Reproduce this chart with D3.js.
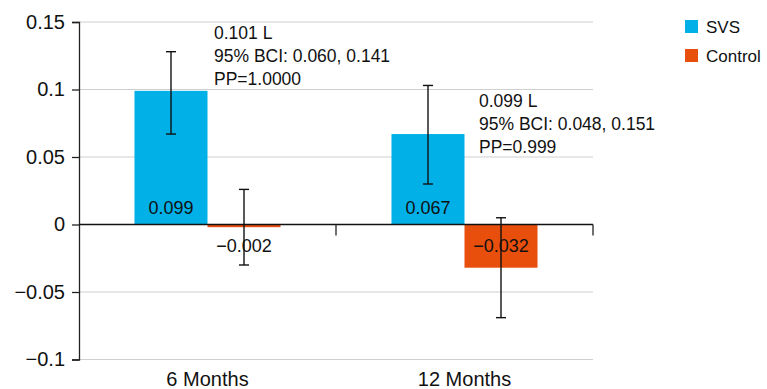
<!DOCTYPE html>
<html>
<head>
<meta charset="utf-8">
<script src="https://cdn.jsdelivr.net/npm/d3@7"></script>
<style>
  body { margin: 0; background: #fff; }
  text { font-family: "Liberation Sans", Arial, Helvetica, sans-serif; fill: #111; }
</style>
</head>
<body>
<svg id="chart" width="767" height="389"></svg>
<script>
var categories = ["6 Months", "12 Months"];
var series = ["SVS", "Control"];
var svsValues = [0.099, 0.067];
var controlValues = [-0.002, -0.032];
var svsLow = [0.067, 0.030];
var svsHigh = [0.128, 0.103];
var controlLow = [-0.030, -0.069];
var controlHigh = [0.026, 0.005];
var annotations = [
  ["0.101 L", "95% BCI: 0.060, 0.141", "PP=1.0000"],
  ["0.099 L", "95% BCI: 0.048, 0.151", "PP=0.999"]
];
var yTicks = [-0.1, -0.05, 0, 0.05, 0.1, 0.15];

var colors = { SVS: "#00b0e6", Control: "#e84e0c" };

var svg = d3.select('#chart');
var plotLeft = 79, plotRight = 593, plotTop = 22, plotBottom = 359.5;

var y = d3.scaleLinear().domain([-0.1, 0.15]).range([plotBottom, plotTop]);
var x0 = d3.scaleBand().domain(categories).range([plotLeft, plotRight]);
var x1 = d3.scaleBand().domain(series).range([0, x0.bandwidth()])
  .paddingInner(0).paddingOuter(0.76);

var fmt = d => String(d).replace('-', '\u2212');

// gridlines
svg.append('g')
  .selectAll('line')
  .data(yTicks.filter(d => d !== 0))
  .enter().append('line')
    .attr('x1', plotLeft).attr('x2', plotRight)
    .attr('y1', d => y(d)).attr('y2', d => y(d))
    .attr('stroke', '#cfcfcf').attr('stroke-width', 1.2);

// y axis
var yAxis = svg.append('g')
  .attr('transform', 'translate(' + plotLeft + ',0)')
  .call(d3.axisLeft(y).tickValues(yTicks).tickFormat(fmt).tickSize(7).tickPadding(7));
yAxis.select('.domain').attr('stroke', '#222').attr('stroke-width', 1.3);
yAxis.selectAll('.tick line').attr('stroke', '#222').attr('stroke-width', 1.3);
yAxis.selectAll('.tick text')
  .attr('font-size', 20)
  .attr('font-family', '"Liberation Sans", Arial, sans-serif')
  .attr('fill', '#111');

var rows = categories.map((c, i) => ({
  cat: c,
  vals: [
    { s: 'SVS', v: svsValues[i], lo: svsLow[i], hi: svsHigh[i] },
    { s: 'Control', v: controlValues[i], lo: controlLow[i], hi: controlHigh[i] }
  ]
}));

var groups = svg.selectAll('.group')
  .data(rows)
  .enter().append('g')
    .attr('class', 'group')
    .attr('transform', d => 'translate(' + x0(d.cat) + ',0)');

groups.selectAll('rect')
  .data(d => d.vals)
  .enter().append('rect')
    .attr('x', d => x1(d.s))
    .attr('width', x1.bandwidth())
    .attr('y', d => y(Math.max(0, d.v)))
    .attr('height', d => Math.abs(y(d.v) - y(0)))
    .attr('fill', d => colors[d.s]);

// zero line and x ticks
svg.append('line')
  .attr('x1', plotLeft).attr('x2', plotRight)
  .attr('y1', y(0)).attr('y2', y(0))
  .attr('stroke', '#111').attr('stroke-width', 1.3);
svg.append('g')
  .selectAll('line')
  .data(categories.slice(1).map(c => x0(c)).concat([plotRight]))
  .enter().append('line')
    .attr('x1', d => d).attr('x2', d => d)
    .attr('y1', y(0)).attr('y2', y(0) + 11)
    .attr('stroke', '#222').attr('stroke-width', 1.3);

// error bars
var eb = groups.selectAll('.err')
  .data(d => d.vals)
  .enter().append('g')
    .attr('class', 'err')
    .attr('stroke', '#111').attr('stroke-width', 1.4);
var cx = d => x1(d.s) + x1.bandwidth() / 2;
eb.append('line')
  .attr('x1', cx).attr('x2', cx)
  .attr('y1', d => y(d.lo)).attr('y2', d => y(d.hi));
eb.append('line')
  .attr('x1', d => cx(d) - 5).attr('x2', d => cx(d) + 5)
  .attr('y1', d => y(d.lo)).attr('y2', d => y(d.lo));
eb.append('line')
  .attr('x1', d => cx(d) - 5).attr('x2', d => cx(d) + 5)
  .attr('y1', d => y(d.hi)).attr('y2', d => y(d.hi));

// value labels
groups.selectAll('.val')
  .data(d => d.vals)
  .enter().append('text')
    .attr('class', 'val')
    .attr('x', cx)
    .attr('y', d => d.v >= 0 ? y(0) - 9 : y(0) + 29)
    .attr('dy', '-0.1em')
    .attr('text-anchor', 'middle')
    .attr('font-size', 18)
    .text(d => fmt(d.v));

// category labels
svg.append('g')
  .selectAll('text')
  .data(categories)
  .enter().append('text')
    .attr('x', d => x0(d) + x0.bandwidth() / 2)
    .attr('y', 386)
    .attr('text-anchor', 'middle')
    .attr('font-size', 20)
    .text(d => d);

// annotations
var annoX = [135, 143];
var annoY = [0.1425, 0.0925];
annotations.forEach((lines, i) => {
  var t = svg.append('text')
    .attr('x', x0(categories[i]) + annoX[i])
    .attr('y', y(annoY[i]) + 7)
    .attr('font-size', 17.5);
  lines.forEach((l, j) => {
    t.append('tspan')
      .attr('x', x0(categories[i]) + annoX[i])
      .attr('dy', j === 0 ? 0 : 23)
      .text(l);
  });
});

// legend
var legend = svg.append('g')
  .selectAll('g')
  .data(series)
  .enter().append('g')
    .attr('transform', (d, i) => 'translate(685,' + (20 + i * 29) + ')');
legend.append('rect')
  .attr('width', 13).attr('height', 13)
  .attr('fill', d => colors[d]);
legend.append('text')
  .attr('x', 21).attr('y', 12.5)
  .attr('font-size', 17)
  .text(d => d);
</script>
</body>
</html>
